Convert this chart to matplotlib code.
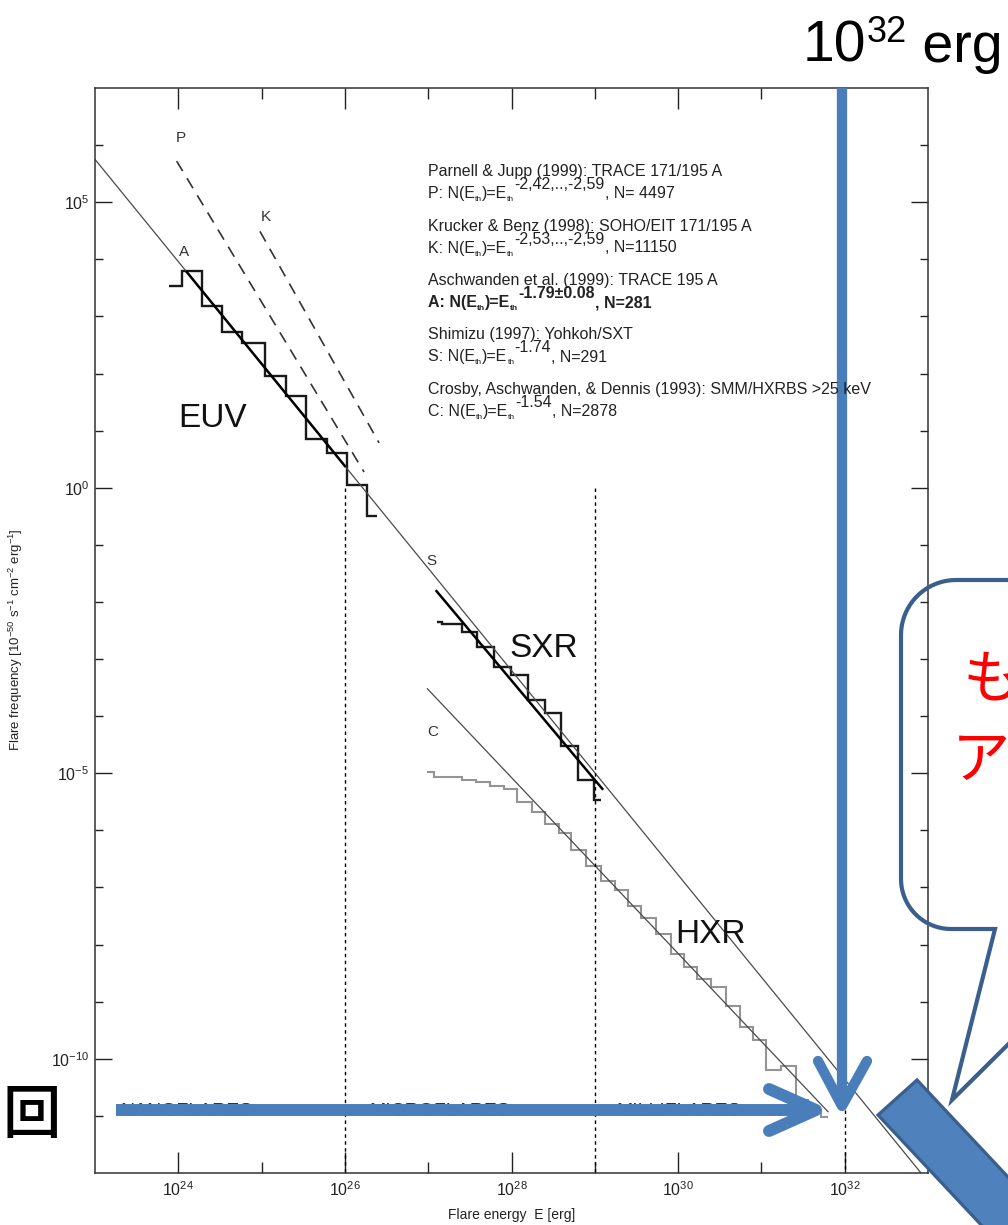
import numpy as np
import matplotlib
matplotlib.use("Agg")
import matplotlib.pyplot as plt
from matplotlib.lines import Line2D
from matplotlib.patches import Polygon
from matplotlib.transforms import Affine2D
from matplotlib.ticker import FixedLocator, NullFormatter

plt.rcParams["font.family"] = ["Liberation Sans", "DejaVu Sans"]
plt.rcParams["mathtext.fontset"] = "custom"
plt.rcParams["mathtext.rm"] = "Liberation Sans"
plt.rcParams["mathtext.it"] = "Liberation Sans:italic"
plt.rcParams["mathtext.bf"] = "Liberation Sans:bold"
plt.rcParams["axes.unicode_minus"] = False

W, H = 1008, 1225

# EUV (TRACE): log10 bin edges [erg] and log10 frequency of each bin
euv_edges = [23.89, 24.04, 24.28, 24.53, 24.77, 25.04, 25.29, 25.53, 25.78, 26.02, 26.27, 26.38]
euv_logn = [3.53, 3.79, 3.18, 2.72, 2.53, 1.95, 1.60, 0.86, 0.61, 0.05, -0.49]

# SXR (Yohkoh/SXT)
sxr_edges = [27.10, 27.17, 27.40, 27.59, 27.79, 27.99, 28.20, 28.40, 28.60, 28.80, 28.99, 29.07]
sxr_logn = [-2.35, -2.39, -2.53, -2.79, -3.14, -3.28, -3.72, -3.95, -4.53, -5.11, -5.46]

# HXR (SMM/HXRBS)
hxr_edges = [26.99, 27.07, 27.41, 27.57, 27.74, 27.91, 28.07, 28.25, 28.40, 28.57,
             28.72, 28.89, 29.07, 29.24, 29.40, 29.56, 29.73, 29.91, 30.07, 30.23,
             30.40, 30.57, 30.74, 30.90, 31.06, 31.24, 31.41, 31.56, 31.72, 31.80]
hxr_logn = [-4.98, -5.07, -5.11, -5.16, -5.23, -5.28, -5.51, -5.67, -5.89, -6.04,
            -6.35, -6.63, -6.89, -7.04, -7.33, -7.54, -7.81, -8.16, -8.39, -8.61,
            -8.75, -9.07, -9.44, -9.67, -10.19, -10.12, -10.72, -10.89, -11.02]

# power-law fits: (slope, log E start, log N at start, log E end)
fit_a = (-1.79, 23.0, 5.75, 33.0)
fit_a_range = (24.1, 26.0)
fit_s = (-1.74, 27.10, -1.81, 29.09)
fit_c = (-1.54, 26.99, -3.52, 31.80)
fit_p = (-2.42, 23.98, 5.72, 26.23)
fit_k = (-2.59, 24.98, 4.49, 26.41)

# energy boundaries between the flare classes
class_bounds = [26, 29]
class_names = ["NANOFLARES", "MICROFLARES", "MILLIFLARES"]
class_x = [23.30, 26.29, 29.26]

# reference lines: (author line, letter, exponent, tail, bold)
refs = [
    ("Parnell & Jupp (1999): TRACE 171/195 A", "P", "-2,42,..,-2,59", ", N= 4497", False),
    ("Krucker & Benz (1998): SOHO/EIT 171/195 A", "K", "-2,53,..,-2,59", ", N=11150", False),
    ("Aschwanden et al. (1999): TRACE 195 A", "A", "-1.79\u00b10.08", ", N=281", True),
    ("Shimizu (1997): Yohkoh/SXT", "S", "-1.74", ", N=291", False),
    ("Crosby, Aschwanden, & Dennis (1993): SMM/HXRBS >25 keV", "C", "-1.54", ", N=2878", False),
]


def powerlaw(slope, e0, n0, e1):
    le = np.array([e0, e1])
    return 10 ** le, 10 ** (n0 + slope * (le - e0))


fig = plt.figure(figsize=(W / 100, H / 100), dpi=100)
ax = fig.add_axes([95 / W, 1 - 1173 / H, (928 - 95) / W, (1173 - 88) / H])
ax.set_xscale("log")
ax.set_yscale("log")
ax.set_xlim(1e23, 1e33)
ax.set_ylim(1e-12, 1e7)

# fitted power laws
x, y = powerlaw(*fit_a)
ax.plot(x, y, color="#4a4a4a", lw=0.9)
slope, e0, n0, _ = fit_a
le = np.array(fit_a_range)
ax.plot(10 ** le, 10 ** (n0 + slope * (le - e0)), color="k", lw=1.8)
x, y = powerlaw(*fit_s)
ax.plot(x, y, color="k", lw=1.8)
x, y = powerlaw(*fit_c)
ax.plot(x, y, color="#4a4a4a", lw=0.9)
for fit in (fit_p, fit_k):
    x, y = powerlaw(*fit)
    ax.plot(x, y, color="#333333", lw=1.2, linestyle=(0, (7, 5)))

# histograms
ax.stairs(10 ** np.array(hxr_logn), 10 ** np.array(hxr_edges), color="#949494", lw=1.5, baseline=None)
ax.stairs(10 ** np.array(euv_logn), 10 ** np.array(euv_edges), color="#1a1a1a", lw=1.7, baseline=None)
ax.stairs(10 ** np.array(sxr_logn), 10 ** np.array(sxr_edges), color="#1a1a1a", lw=1.7, baseline=None)

# class boundaries
for b in class_bounds:
    ax.plot([10 ** b, 10 ** b], [1, 1e-12], color="k", lw=1.0, linestyle=(0, (2.5, 2.5)))
ax.plot([1e32, 1e32], [10 ** -10.9, 1e-12], color="k", lw=1.0, linestyle=(0, (2.5, 2.5)))
for name, cx in zip(class_names, class_x):
    ax.text(10 ** cx, 10 ** -10.93, name, fontsize=14, color="#333333", va="center", ha="left")

# curve letters and band names
for lab, lx, ly in [("P", 24.03, 6.12), ("K", 25.05, 4.74), ("A", 24.07, 4.12),
                    ("S", 27.04, -1.28), ("C", 27.05, -4.28)]:
    ax.text(10 ** lx, 10 ** ly, lab, fontsize=11, color="#333333", va="center", ha="center")
for lab, lx, ly in [("EUV", 24.0, 1.21), ("SXR", 27.98, -2.82), ("HXR", 29.96, -7.82)]:
    ax.text(10 ** lx, 10 ** ly, lab, fontsize=24, color="#111111", va="center", ha="left")

# axes styling
ax.xaxis.set_major_locator(FixedLocator([1e24, 1e26, 1e28, 1e30, 1e32]))
ax.xaxis.set_minor_locator(FixedLocator([1e25, 1e27, 1e29, 1e31]))
ax.xaxis.set_minor_formatter(NullFormatter())
ax.yaxis.set_major_locator(FixedLocator([1e-10, 1e-5, 1e0, 1e5]))
ax.yaxis.set_minor_locator(FixedLocator([10.0 ** k for k in range(-11, 7) if k % 5 != 0]))
ax.yaxis.set_minor_formatter(NullFormatter())
ax.tick_params(which="both", direction="in", top=True, right=True, width=1.0,
               color="#222222", labelsize=11.5, labelcolor="#222222")
ax.tick_params(axis="x", which="major", length=15, pad=5)
ax.tick_params(axis="x", which="minor", length=8)
ax.tick_params(axis="y", which="major", length=12, pad=4)
ax.tick_params(axis="y", which="minor", length=6)
for sp in ax.spines.values():
    sp.set_linewidth(1.1)
    sp.set_color("#333333")
ax.set_xlabel("Flare energy  E [erg]", fontsize=10, color="#222222")
ax.xaxis.set_label_coords(0.5, -0.032)
ax.set_ylabel(r"Flare frequency [10$^{-50}$ s$^{-1}$ cm$^{-2}$ erg$^{-1}$]", fontsize=9.5, color="#222222")
ax.yaxis.set_label_coords(-0.084, 0.492)

# overlay drawn in pixel coordinates, origin at the top-left corner
px = Affine2D().scale(1 / W, -1 / H).translate(0, 1) + fig.transFigure
renderer = fig.canvas.get_renderer()


def draw_runs(x0, y0, runs, **kw):
    xpos = x0
    for text, size, dy, weight in runs:
        t = fig.text(xpos, y0 + dy, text, transform=px, fontsize=size, fontweight=weight,
                     ha="left", va="baseline", **kw)
        xpos += t.get_window_extent(renderer).width


base_y = 176
for i, (title, letter, expo, tail, bold) in enumerate(refs):
    yb = base_y + i * 54.5
    w = "bold" if bold else "normal"
    draw_runs(428, yb, [(title, 11.5, 0, "normal")], color="#222222")
    draw_runs(428, yb + 22, [(letter + ": N(E", 11.5, 0, w), ("th", 6, 3, w), (")=E", 11.5, 0, w),
                             ("th", 6, 3, w), (expo, 11.5, -9, w), (tail, 11.5, 0, w)],
              color="#222222")

blue = "#4a7ebb"
dark_blue = "#3a5f8d"

# vertical arrow to 10^32 erg
fig.add_artist(Line2D([842, 842], [88, 1103], transform=px, color=blue, lw=7.4, solid_capstyle="butt"))
fig.add_artist(Line2D([818, 842, 867], [1061, 1106, 1061], transform=px, color=blue, lw=7.4,
                      solid_capstyle="round", solid_joinstyle="round"))
# horizontal arrow along the flare classes
fig.add_artist(Line2D([116, 814], [1110, 1110], transform=px, color=blue, lw=8.6, solid_capstyle="butt"))
fig.add_artist(Line2D([769, 816, 769], [1089, 1110, 1131], transform=px, color=blue, lw=8.6,
                      solid_capstyle="round", solid_joinstyle="round"))

# speech bubble
r1, r2 = 55, 50
left, top, bottom = 901, 580, 929
t1 = np.linspace(np.pi / 2, np.pi, 20)
t2 = np.linspace(np.pi, 1.5 * np.pi, 20)
bx = np.concatenate([[1015], left + r1 + r1 * np.cos(t1), left + r2 + r2 * np.cos(t2), [995, 952, 1065]])
by = np.concatenate([[top], top + r1 - r1 * np.sin(t1), bottom - r2 - r2 * np.sin(t2), [bottom, 1100, 988]])
fig.add_artist(Line2D(bx, by, transform=px, color=dark_blue, lw=3.0, solid_joinstyle="miter"))
fig.text(963, 681, "も", transform=px, fontsize=42, color="red", family=["Noto Sans CJK JP"],
         ha="left", va="center")
fig.text(952, 762, "ア", transform=px, fontsize=42, color="red", family=["Noto Sans CJK JP"],
         ha="left", va="center")

# thick bar at the lower right
fig.add_artist(Polygon([(878, 1115), (917, 1080), (1145, 1323), (1106, 1358)], closed=True,
                       transform=px, facecolor="#4f81bd", edgecolor=dark_blue, lw=2.3))

fig.text(32, 1116, "回", transform=px, fontsize=42, fontweight="medium", color="k",
         family=["Noto Sans CJK JP"], ha="center", va="center")

draw_runs(803, 62, [("10", 41, 0, "normal"), ("32", 26, -20, "normal"), (" erg", 40, 0, "normal")],
          color="k", family=["Liberation Sans Narrow", "Liberation Sans"])

fig.savefig("out.png", dpi=100, facecolor="white")
